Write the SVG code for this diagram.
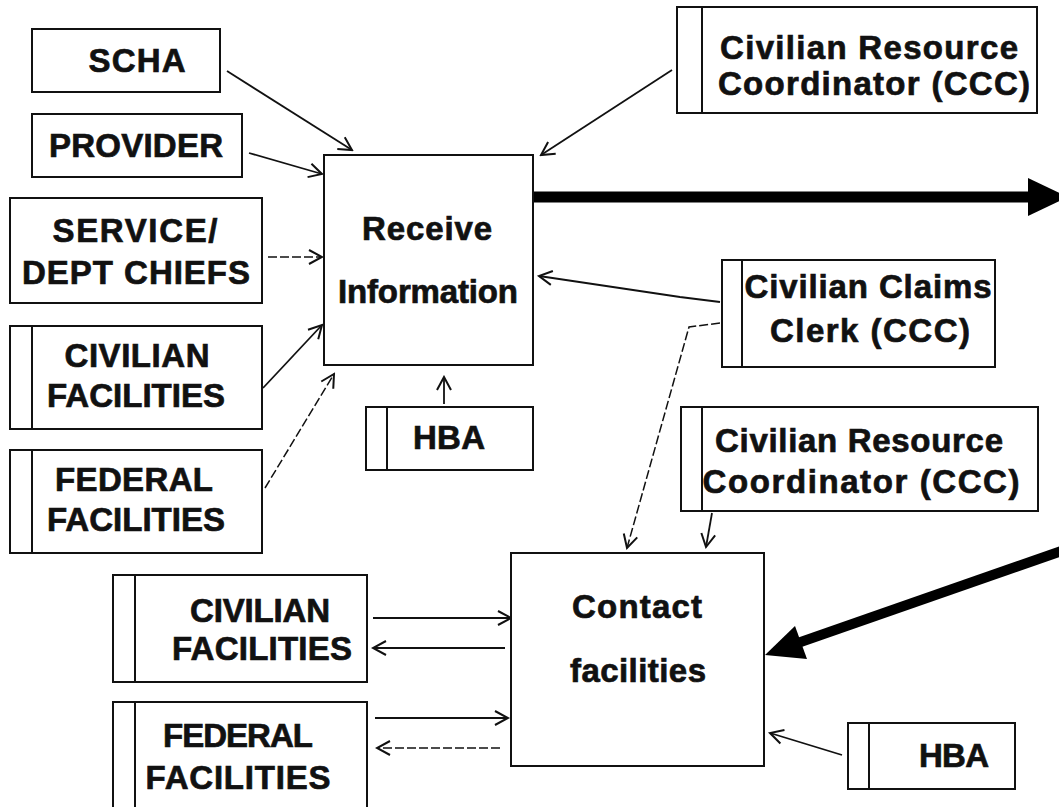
<svg xmlns="http://www.w3.org/2000/svg" width="1059" height="807" viewBox="0 0 1059 807">
  <style>
    .box { fill: #fff; stroke: #111; stroke-width: 2; }
    .div { stroke: #111; stroke-width: 2; }
    .lbl { font-family: "Liberation Sans", Arial, sans-serif; font-weight: bold; font-size: 33px; fill: #111; stroke: #111; stroke-width: 0.7; text-anchor: middle; }
    .con { fill: none; stroke: #111; stroke-width: 1.8; marker-end: url(#open); }
    .dash { stroke-dasharray: 9 3; stroke-width: 1.5; }
    .thick { fill: none; stroke: #000; stroke-width: 11; }
  </style>
  <defs>
    <marker id="open" markerUnits="userSpaceOnUse" markerWidth="18" markerHeight="18" viewBox="0 0 18 18" refX="16" refY="9" orient="auto">
      <path d="M3,2 L16,9 L3,16" fill="none" stroke="#111" stroke-width="2"/>
    </marker>
  </defs>
  <rect width="1059" height="807" fill="#fff"/>

  <!-- connectors -->
  <g id="connectors">
    <line class="con" x1="227" y1="71" x2="352" y2="150"/>
    <line class="con" x1="249" y1="153" x2="322" y2="174"/>
    <line class="con dash" x1="268" y1="257" x2="322" y2="257"/>
    <line class="con" x1="263" y1="388" x2="322" y2="325"/>
    <line class="con dash" x1="265" y1="488" x2="334" y2="374"/>
    <line class="con" x1="444" y1="404" x2="444" y2="377"/>
    <line class="con" x1="672" y1="70" x2="541" y2="155"/>
    <polyline class="con" points="720,302 680,297 539,276"/>
    <polyline class="con dash" points="720,323 689,327 627,548"/>
    <line class="con" x1="712" y1="513" x2="706" y2="547"/>
    <line class="con" x1="373" y1="618" x2="511" y2="618"/>
    <line class="con" x1="505" y1="648" x2="373" y2="648"/>
    <line class="con" x1="375" y1="718" x2="508" y2="718"/>
    <line class="con dash" x1="500" y1="748" x2="377" y2="748"/>
    <line class="con" x1="842" y1="755" x2="770" y2="733"/>
    <!-- heavy flow arrows -->
    <line class="thick" x1="533" y1="197" x2="1030" y2="197"/>
    <polygon points="1028,178 1068,197 1028,216" fill="#000"/>
    <line class="thick" x1="1070" y1="548" x2="795" y2="644" style="stroke-width:10"/>
    <polygon points="765,655 795,626 807,659" fill="#000"/>
  </g>

  <g id="scha">
    <rect class="box" x="32" y="29" width="188" height="63"/>
    <text class="lbl" x="137" y="72" textLength="97">SCHA</text>
  </g>
  <g id="provider">
    <rect class="box" x="32" y="114" width="210" height="63"/>
    <text class="lbl" x="136" y="157" textLength="174">PROVIDER</text>
  </g>
  <g id="service-chiefs">
    <rect class="box" x="10" y="198" width="252" height="105"/>
    <text class="lbl" x="135" y="242" textLength="165">SERVICE/</text>
    <text class="lbl" x="136" y="284" textLength="228">DEPT CHIEFS</text>
  </g>
  <g id="civilian-facilities-1">
    <rect class="box" x="10" y="326" width="252" height="103"/>
    <line class="div" x1="32" y1="326" x2="32" y2="429"/>
    <text class="lbl" x="137" y="367" textLength="145">CIVILIAN</text>
    <text class="lbl" x="136" y="407" textLength="178">FACILITIES</text>
  </g>
  <g id="federal-facilities-1">
    <rect class="box" x="10" y="450" width="252" height="103"/>
    <line class="div" x1="32" y1="450" x2="32" y2="553"/>
    <text class="lbl" x="134" y="491" textLength="158">FEDERAL</text>
    <text class="lbl" x="136" y="531" textLength="178">FACILITIES</text>
  </g>
  <g id="receive-information">
    <rect class="box" x="324" y="155" width="209" height="210"/>
    <text class="lbl" x="427" y="240" textLength="130">Receive</text>
    <text class="lbl" x="428" y="303" textLength="180">Information</text>
  </g>
  <g id="hba-1">
    <rect class="box" x="366" y="407" width="167" height="63"/>
    <line class="div" x1="387" y1="407" x2="387" y2="470"/>
    <text class="lbl" x="449" y="449" textLength="72">HBA</text>
  </g>
  <g id="resource-coordinator-1">
    <rect class="box" x="677" y="7" width="360" height="106"/>
    <line class="div" x1="702" y1="7" x2="702" y2="113"/>
    <text class="lbl" x="869" y="59" textLength="298">Civilian Resource</text>
    <text class="lbl" x="874" y="95" textLength="312">Coordinator (CCC)</text>
  </g>
  <g id="claims-clerk">
    <rect class="box" x="722" y="260" width="273" height="107"/>
    <line class="div" x1="742" y1="260" x2="742" y2="367"/>
    <text class="lbl" x="868" y="298" textLength="247">Civilian Claims</text>
    <text class="lbl" x="870" y="342" textLength="200">Clerk (CCC)</text>
  </g>
  <g id="resource-coordinator-2">
    <rect class="box" x="681" y="407" width="357" height="104"/>
    <line class="div" x1="702" y1="407" x2="702" y2="511"/>
    <text class="lbl" x="859" y="452" textLength="288">Civilian Resource</text>
    <text class="lbl" x="861" y="493" textLength="317">Coordinator (CCC)</text>
  </g>
  <g id="contact-facilities">
    <rect class="box" x="511" y="553" width="253" height="213"/>
    <text class="lbl" x="637" y="618" textLength="130">Contact</text>
    <text class="lbl" x="638" y="682" textLength="136">facilities</text>
  </g>
  <g id="civilian-facilities-2">
    <rect class="box" x="113" y="575" width="254" height="107"/>
    <line class="div" x1="135" y1="575" x2="135" y2="682"/>
    <text class="lbl" x="260" y="622" textLength="140">CIVILIAN</text>
    <text class="lbl" x="262" y="660" textLength="180">FACILITIES</text>
  </g>
  <g id="federal-facilities-2">
    <rect class="box" x="113" y="702" width="254" height="115"/>
    <line class="div" x1="135" y1="702" x2="135" y2="817"/>
    <text class="lbl" x="238" y="747" textLength="150">FEDERAL</text>
    <text class="lbl" x="238" y="789" textLength="185">FACILITIES</text>
  </g>
  <g id="hba-2">
    <rect class="box" x="848" y="723" width="167" height="66"/>
    <line class="div" x1="869" y1="723" x2="869" y2="789"/>
    <text class="lbl" x="954" y="767" textLength="70">HBA</text>
  </g>
</svg>
